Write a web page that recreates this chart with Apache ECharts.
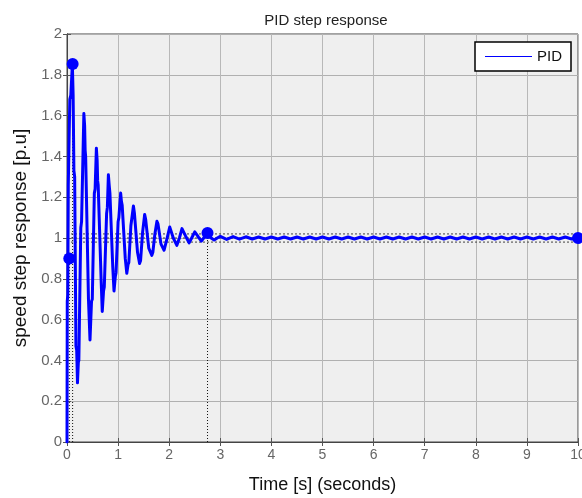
<!DOCTYPE html>
<html>
<head>
<meta charset="utf-8">
<script src="https://cdn.jsdelivr.net/npm/echarts@6/dist/echarts.min.js"></script>
<style>
html,body{margin:0;padding:0;background:#fff;}
#chart{width:582px;height:498px;}
</style>
</head>
<body>
<div id="chart"></div>
<script>
// ---- data ----
const titleText = 'PID step response';
const xAxisName = 'Time [s] (seconds)';
const yAxisName = 'speed step response [p.u]';
const seriesName = 'PID';

const timeS = [
  0, 0.005, 0.015, 0.025, 0.055, 0.075, 0.105, 0.12, 0.135, 0.15, 0.175, 0.19, 0.205, 0.222, 0.232,
  0.27, 0.285, 0.33, 0.345, 0.355, 0.365, 0.42, 0.45, 0.48, 0.495,
  0.535, 0.55, 0.575, 0.59, 0.60, 0.61, 0.67, 0.69, 0.715, 0.73,
  0.775, 0.79, 0.81, 0.825, 0.84, 0.895, 0.92, 0.945, 0.96,
  1.00, 1.015, 1.05, 1.065, 1.08, 1.14, 1.17, 1.195, 1.21,
  1.25, 1.30, 1.32, 1.38, 1.42, 1.44, 1.48, 1.52, 1.54, 1.60, 1.66, 1.68,
  1.72, 1.76, 1.78, 1.84, 1.90, 1.95, 2.01, 2.08, 2.15, 2.20, 2.25, 2.32, 2.39, 2.44,
  2.50, 2.57, 2.63, 2.69, 2.75, 2.82, 2.88, 2.94,
  3.0, 3.125, 3.25, 3.375, 3.5, 3.625, 3.75, 3.875, 4.0, 4.125, 4.25, 4.375, 4.5, 4.625, 4.75, 4.875,
  5.0, 5.125, 5.25, 5.375, 5.5, 5.625, 5.75, 5.875, 6.0, 6.125, 6.25, 6.375, 6.5, 6.625, 6.75, 6.875,
  7.0, 7.125, 7.25, 7.375, 7.5, 7.625, 7.75, 7.875, 8.0, 8.125, 8.25, 8.375, 8.5, 8.625, 8.75, 8.875,
  9.0, 9.125, 9.25, 9.375, 9.5, 9.625, 9.75, 9.875, 10
];
const speedPU = [
  0, 0.69, 0.72, 1.26, 1.68, 1.70, 1.85, 1.70, 1.33, 1.30, 0.47, 0.45, 0.29, 0.39, 0.40,
  1.05, 1.08, 1.61, 1.55, 1.43, 1.40, 0.70, 0.50, 0.69, 0.70,
  1.22, 1.24, 1.44, 1.38, 1.28, 1.26, 0.78, 0.64, 0.74, 0.76,
  1.12, 1.15, 1.31, 1.26, 1.22, 0.86, 0.74, 0.81, 0.83,
  1.08, 1.10, 1.22, 1.18, 1.16, 0.90, 0.827, 0.87, 0.88,
  1.06, 1.157, 1.12, 0.93, 0.875, 0.89, 1.03, 1.115, 1.09, 0.95, 0.915, 0.93,
  1.02, 1.082, 1.07, 0.97, 0.94, 0.99, 1.054, 1.0, 0.964, 1.0, 1.046, 1.01, 0.976, 1.0,
  1.03, 1.005, 0.985, 1.005, 1.022, 1.0, 0.99, 1.0,
  1.008, 0.993, 1.007, 0.994, 1.006, 0.995, 1.005, 0.995, 1.005, 0.995, 1.005, 0.995, 1.005, 0.995, 1.005, 0.995,
  1.005, 0.995, 1.005, 0.995, 1.005, 0.995, 1.005, 0.995, 1.005, 0.995, 1.005, 0.995, 1.005, 0.995, 1.005, 0.995,
  1.005, 0.995, 1.005, 0.995, 1.005, 0.995, 1.005, 0.995, 1.005, 0.995, 1.005, 0.995, 1.005, 0.995, 1.005, 0.995,
  1.005, 0.995, 1.005, 0.995, 1.005, 0.995, 1.005, 0.995, 1.0
];

// characteristic points: rise, peak, settling, final
const keyTimes  = [0.045, 0.11, 2.75, 10];
const keyValues = [0.90, 1.853, 1.025, 1.0];

// settling band levels
const bandLevels = [1.02, 1.0, 0.98];

const xMin = 0, xMax = 10, xStep = 1;
const yMin = 0, yMax = 2, yStep = 0.2;

// ---- build ----
const mainData = timeS.map((t, i) => [t, speedPU[i]]);
const keyData = keyTimes.map((t, i) => [t, keyValues[i]]);

const refSeries = [];
for (let i = 0; i < 3; i++) {
  refSeries.push({
    type: 'line', silent: true, symbol: 'none', z: 1,
    data: [[keyTimes[i], yMin], [keyTimes[i], keyValues[i]]],
    lineStyle: { color: '#111', width: 1, type: [1, 2] }
  });
}
bandLevels.forEach(v => {
  refSeries.push({
    type: 'line', silent: true, symbol: 'none', z: 1,
    data: [[xMin, v], [xMax, v]],
    lineStyle: { color: '#444', width: 1, type: [2, 2] }
  });
});

const font = '"Liberation Sans", Arial, Helvetica, sans-serif';
const tickCommon = { show: true, inside: true, length: 4, lineStyle: { color: '#555' } };

const option = {
  animation: false,
  backgroundColor: '#fff',
  textStyle: { fontFamily: font },
  title: {
    text: titleText, left: 321, top: 8, textAlign: 'center',
    textStyle: { fontSize: 15, fontWeight: 'normal', color: '#222', fontFamily: font }
  },
  legend: {
    data: [{ name: seriesName, icon: 'rect' }],
    left: 475, top: 42,
    itemWidth: 47, itemHeight: 1.2, itemGap: 6,
    padding: [7, 9, 7, 10],
    backgroundColor: '#fff', borderColor: '#000', borderWidth: 1.5, borderRadius: 0,
    textStyle: { fontSize: 15, color: '#111', fontFamily: font }
  },
  grid: {
    left: 67, top: 34, right: 4, bottom: 56,
    outerBoundsMode: 'none', containLabel: false,
    show: true, backgroundColor: '#efefef', borderColor: '#444', borderWidth: 1
  },
  xAxis: [{
    type: 'value', min: xMin, max: xMax, interval: xStep,
    name: xAxisName, nameLocation: 'middle', nameGap: 34,
    nameTextStyle: { fontSize: 18, color: '#111', fontFamily: font },
    axisLine: { show: true, lineStyle: { color: '#444' } },
    axisTick: tickCommon,
    axisLabel: { margin: 6, fontSize: 14, color: '#666', fontFamily: font },
    splitLine: { show: true, lineStyle: { color: '#b8b8b8', width: 1 } }
  }, {
    type: 'value', position: 'top', min: xMin, max: xMax, interval: xStep,
    axisLine: { show: true, lineStyle: { color: '#444' } },
    axisTick: tickCommon, axisLabel: { show: false }, splitLine: { show: false }
  }],
  yAxis: [{
    type: 'value', min: yMin, max: yMax, interval: yStep,
    name: yAxisName, nameLocation: 'middle', nameGap: 37,
    nameTextStyle: { fontSize: 19, color: '#111', fontFamily: font },
    axisLine: { show: true, lineStyle: { color: '#444' } },
    axisTick: tickCommon,
    axisLabel: { margin: 5, fontSize: 15, color: '#666', fontFamily: font },
    splitLine: { show: true, lineStyle: { color: '#b0b0b0', width: 1 } }
  }, {
    type: 'value', position: 'right', min: yMin, max: yMax, interval: yStep,
    axisLine: { show: true, lineStyle: { color: '#444' } },
    axisTick: tickCommon, axisLabel: { show: false }, splitLine: { show: false }
  }],
  series: [
    ...refSeries,
    {
      name: seriesName, type: 'line', data: mainData, z: 3,
      symbol: 'none', smooth: false,
      lineStyle: { color: '#0000ff', width: 3, join: 'round', cap: 'round' },
      itemStyle: { color: '#0000ff' }
    },
    {
      name: 'key', type: 'scatter', data: keyData, z: 4, clip: false,
      symbol: 'circle', symbolSize: 12, itemStyle: { color: '#0000ff', opacity: 1 }
    }
  ]
};

const chart = echarts.init(document.getElementById('chart'), null, { renderer: 'canvas' });
chart.setOption(option);
</script>
</body>
</html>
